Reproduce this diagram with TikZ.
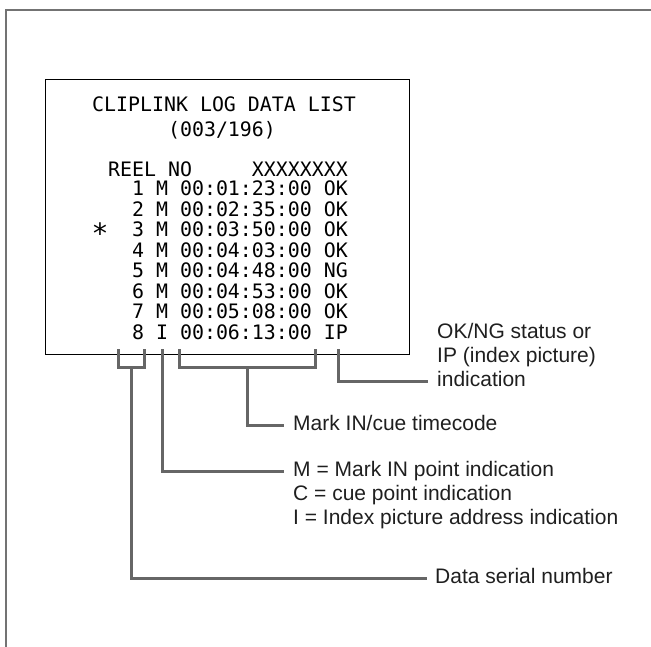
\documentclass[tikz,border=0pt]{standalone}
\usepackage{fontspec}
\setmainfont{Liberation Sans}
\newfontfamily\lcdfont{DejaVu Sans Mono}
\usetikzlibrary{positioning,calc}

\begin{document}
\begin{tikzpicture}[
    x=1pt, y=-1pt,
    every node/.style={inner sep=0pt},
    lcd/.style={font=\lcdfont\fontsize{19.9}{20.5}\selectfont, anchor=base west},
    lbl/.style={font=\fontsize{21}{24}\selectfont, text=black!88, anchor=base west, align=left},
    screenbox/.style={draw, line width=1.4pt, minimum width=364pt, minimum height=275pt, anchor=north west},
    lead/.style={draw=black!60, line width=3pt},
    frame/.style={draw=black!55, line width=1.8pt}
]
\useasboundingbox (0,0) rectangle (651,647);
\draw[frame] (6,660) -- (6,10) -- (660,10);

\node[screenbox] (screen) at (45,79) {};
\node[lcd, anchor=base] (title) at (224,112) {CLIPLINK LOG DATA LIST};
\node[lcd, anchor=base] (count) at (222,137) {(003/196)};
\node[lcd] (head) at (96,177) {~REEL~NO~~~~~XXXXXXXX};
\node[lcd] (row1) at (96,196) {~~~1 M 00:01:23:00 OK};
\node[lcd] (row2) at (96,216.5) {~~~2 M 00:02:35:00 OK};
\node[lcd] (row3) at (96,237) {~~~3 M 00:03:50:00 OK};
\node[lcd] (row4) at (96,257.5) {~~~4 M 00:04:03:00 OK};
\node[lcd] (row5) at (96,278) {~~~5 M 00:04:48:00 NG};
\node[lcd] (row6) at (96,298.5) {~~~6 M 00:04:53:00 OK};
\node[lcd] (row7) at (96,319) {~~~7 M 00:05:08:00 OK};
\node[lcd] (row8) at (96,339.5) {~~~8 I 00:06:13:00 IP};
\node[font=\lcdfont\fontsize{28}{28}\selectfont] (cursor) at (100,233) {*};

\node[lbl] (status) at (437,386) {OK/NG status or\\IP (index picture)\\indication};
\node[lbl] (timecode) at (293,430) {Mark IN/cue timecode};
\node[lbl] (mode) at (293,524) {M = Mark IN point indication\\C = cue point indication\\I = Index picture address indication};
\node[lbl] (serial) at (435,583) {Data serial number};

\coordinate (serialL) at (118,349);
\coordinate (serialR) at (144,349);
\coordinate (serialfoot) at (131,367);
\coordinate (modetap) at (162,349);
\coordinate (timeL) at (179,349);
\coordinate (timeR) at (315,349);
\coordinate (timefoot) at (247,367);
\coordinate (statustap) at (338,349);

\draw[lead] (serialL) -- ++(0,18) -| (serialR);
\draw[lead] (serialfoot) |- ([shift={(-8,-5)}]serial.base west);
\draw[lead] (modetap) |- ([shift={(-9,-53)}]mode.base west);
\draw[lead] (timeL) -- ++(0,18) -| (timeR);
\draw[lead] (timefoot) |- ([shift={(-9,-5)}]timecode.base west);
\draw[lead] (statustap) |- ([shift={(-9,-5)}]status.base west);
\end{tikzpicture}
\end{document}
